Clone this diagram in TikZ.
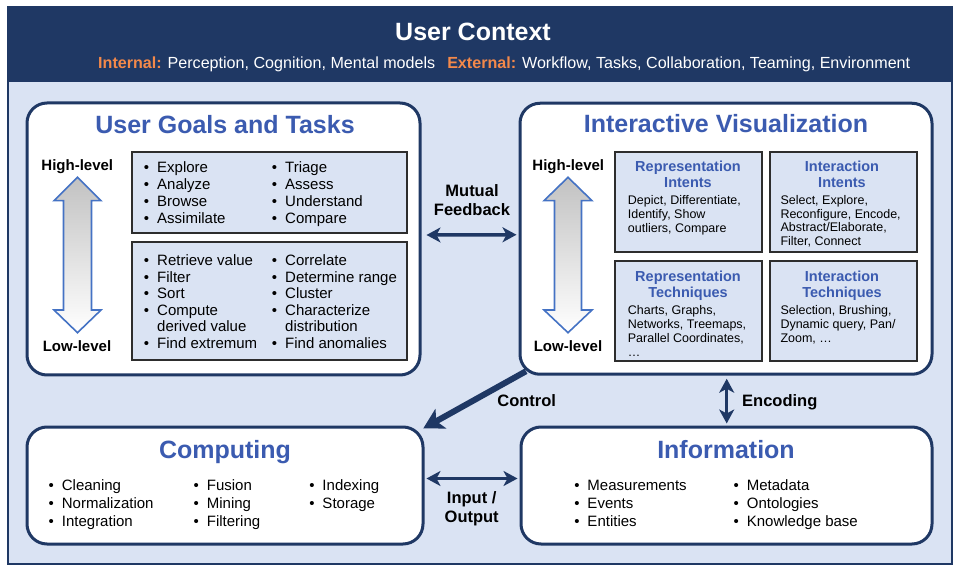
\documentclass[tikz,border=0pt]{standalone}
\usepackage{fontspec}
\setmainfont{Liberation Sans}
\usetikzlibrary{arrows.meta,calc}
\definecolor{navy}{RGB}{31,56,100}
\definecolor{paleblue}{RGB}{218,227,243}
\definecolor{titleblue}{RGB}{59,91,176}
\definecolor{orng}{RGB}{244,137,74}
\definecolor{arrowblue}{RGB}{68,114,196}
\definecolor{boxgray}{RGB}{45,45,45}
\newcommand\fs[2]{\fontsize{#1}{#2}\selectfont}
\newcommand\bl{\llap{•\hspace{8pt}}}
\begin{document}
\begin{tikzpicture}[x=1pt,y=-1pt,
  panel/.style={draw=navy, line width=3pt, fill=white, rounded corners=20pt, inner sep=0pt},
  innerbox/.style={draw=boxgray, line width=1.3pt, fill=paleblue, inner sep=0pt},
  ptitle/.style={anchor=base, inner sep=0pt, text=titleblue, font=\bfseries\fs{25}{28}},
  btitle/.style={anchor=base, inner sep=0pt, text=titleblue, font=\bfseries\fs{14.5}{16}},
  btext/.style={anchor=base west, inner sep=0pt, font=\fs{12.5}{14}},
  item/.style={anchor=base west, inner sep=0pt, font=\fs{15}{17}},
  lvl/.style={anchor=base, inner sep=0pt, font=\bfseries\fs{15}{17}},
  lbl/.style={anchor=base, inner sep=0pt, font=\bfseries\fs{16.5}{19}},
  dbl/.style={navy, line width=3.5pt, {Stealth[length=14pt,width=15pt,inset=4pt]}-{Stealth[length=14pt,width=15pt,inset=4pt]}},
  blockarrow/.style={draw=arrowblue, line width=1.6pt, top color=black!24, bottom color=white, line join=miter}
]
\useasboundingbox (0,0) rectangle (959,569);
% outer frame
\path[fill=paleblue, draw=navy, line width=2pt] (8,7) rectangle (952,564);
\path[fill=navy] (8,7) rectangle (952,82);
\node[anchor=base, inner sep=0pt, text=white, font=\bfseries\fs{25}{28}] (ctx) at (473,41) {User Context};
\node[anchor=base west, inner sep=0pt, font=\fs{16.1}{18}, text=white] (sub) at (98,68.5)
  {{\color{orng}\bfseries Internal:} Perception, Cognition, Mental models\hspace{12pt}{\color{orng}\bfseries External:} Workflow, Tasks, Collaboration, Teaming, Environment};

% panels
\node[panel, minimum width=393pt, minimum height=272pt] (goals) at (223.5,239) {};
\node[panel, minimum width=412pt, minimum height=271pt] (viz) at (726,238.75) {};
\node[panel, minimum width=396pt, minimum height=117pt] (comp) at (225,485.5) {};
\node[panel, minimum width=411pt, minimum height=117pt] (info) at (726.5,485.5) {};

\node[ptitle] (goalsT) at (225,134) {User Goals and Tasks};
\node[ptitle] (vizT) at (726,133) {Interactive Visualization};
\node[ptitle] (compT) at (225,458) {Computing};
\node[ptitle] (infoT) at (726,458) {Information};

% block arrows
\path[blockarrow] (77.5,177.3) -- (101,200.7) -- (91.5,200.7) -- (91.5,310) -- (101,310) -- (77.5,332.7)
  -- (54,310) -- (63.5,310) -- (63.5,200.7) -- (54,200.7) -- cycle;
\path[blockarrow] (568,177.3) -- (592,200.7) -- (581.5,200.7) -- (581.5,310) -- (592,310) -- (568,332.7)
  -- (544,310) -- (554.5,310) -- (554.5,200.7) -- (544,200.7) -- cycle;
\node[lvl] (gh) at (77.3,171) {High-level};
\node[lvl] (gl) at (77,351.7) {Low-level};
\node[lvl] (vh) at (568.3,171) {High-level};
\node[lvl] (vl) at (568,351.7) {Low-level};

% goals boxes
\node[innerbox, minimum width=275pt, minimum height=81pt] (g1) at (269.5,192.5) {};
\node[innerbox, minimum width=275pt, minimum height=118pt] (g2) at (269.5,301) {};
\foreach \t [count=\i from 0] in {Explore,Analyze,Browse,Assimilate}
  \node[item] (ga\i) at (157,173+16.7*\i) {\bl\t};
\foreach \t [count=\i from 0] in {Triage,Assess,Understand,Compare}
  \node[item] (gb\i) at (285,173+16.7*\i) {\bl\t};
\foreach \t [count=\i from 0] in {Retrieve value,Filter,Sort,Compute}
  \node[item] (gc\i) at (157,265.5+16.6*\i) {\bl\t};
\node[item] (gc4) at (157,265.5+16.6*4) {derived value};
\node[item] (gc5) at (157,265.5+16.6*5) {\bl Find extremum};
\foreach \t [count=\i from 0] in {Correlate,Determine range,Cluster,Characterize}
  \node[item] (gd\i) at (285,265.5+16.6*\i) {\bl\t};
\node[item] (gd4) at (285,265.5+16.6*4) {distribution};
\node[item] (gd5) at (285,265.5+16.6*5) {\bl Find anomalies};

% viz boxes
\node[innerbox, minimum width=147pt, minimum height=100pt] (ri) at (688.5,202) {};
\node[innerbox, minimum width=147pt, minimum height=100pt] (ii) at (843.5,202) {};
\node[innerbox, minimum width=147pt, minimum height=100pt] (rt) at (688.5,311) {};
\node[innerbox, minimum width=147pt, minimum height=100pt] (it) at (843.5,311) {};

\node[btitle] (riA) at (688,171.7) {Representation};
\node[btitle] (riB) at (688,187.7) {Intents};
\foreach \t [count=\i from 0] in {{Depict, Differentiate,},{Identify, Show},{outliers, Compare}}
  \node[btext] (rix\i) at (627.7,205+13.6*\i) {\t};
\node[btitle] (iiA) at (842,171.7) {Interaction};
\node[btitle] (iiB) at (842,187.7) {Intents};
\foreach \t [count=\i from 0] in {{Select, Explore,},{Reconfigure, Encode,},{Abstract/Elaborate,},{Filter, Connect}}
  \node[btext] (iix\i) at (780.3,205+13.5*\i) {\t};
\node[btitle] (rtA) at (688,281.7) {Representation};
\node[btitle] (rtB) at (688,297.7) {Techniques};
\foreach \t [count=\i from 0] in {{Charts, Graphs,},{Networks, Treemaps,},{Parallel Coordinates,},{…}}
  \node[btext] (rtx\i) at (627.7,315+13.7*\i) {\t};
\node[btitle] (itA) at (842,281.7) {Interaction};
\node[btitle] (itB) at (842,297.7) {Techniques};
\foreach \t [count=\i from 0] in {{Selection, Brushing,},{Dynamic query, Pan/},{Zoom, …}}
  \node[btext] (itx\i) at (780.3,315+13.7*\i) {\t};

% computing list
\foreach \t [count=\i from 0] in {Cleaning,Normalization,Integration}
  \node[item] (ca\i) at (61.7,490.7+17.7*\i) {\bl\t};
\foreach \t [count=\i from 0] in {Fusion,Mining,Filtering}
  \node[item] (cb\i) at (206.7,490.7+17.7*\i) {\bl\t};
\foreach \t [count=\i from 0] in {Indexing,Storage}
  \node[item] (cc\i) at (322.3,490.7+17.7*\i) {\bl\t};
% information list
\foreach \t [count=\i from 0] in {Measurements,Events,Entities}
  \node[item] (ia\i) at (587.3,490.7+17.7*\i) {\bl\t};
\foreach \t [count=\i from 0] in {Metadata,Ontologies,Knowledge base}
  \node[item] (ib\i) at (746.7,490.7+17.7*\i) {\bl\t};

% connectors
\draw[dbl] ($(goals.east)+(5,-4)$) -- ($(viz.west)+(-2,-4)$);
\node[lbl] (mf1) at (472,196.7) {Mutual};
\node[lbl] (mf2) at (472,215.7) {Feedback};
\draw[dbl] ($(comp.east)+(2,-7)$) -- ($(info.west)+(-2,-7)$);
\node[lbl] (io1) at (471.7,503.3) {Input /};
\node[lbl] (io2) at (471.7,522.7) {Output};
\draw[dbl] ($(viz.south)+(0.7,3)$) -- ($(info.north)+(0.2,-2)$);
\node[lbl] (enc) at (779.8,406.7) {Encoding};
\draw[navy, line width=6pt, -{Stealth[length=20pt,width=22pt,inset=5pt]}] ($(viz.south west)+(7.5,-4.5)$) -- ($(comp.north east)+(-1.3,3)$);
\node[lbl] (ctl) at (526.7,406.7) {Control};
\end{tikzpicture}
\end{document}
